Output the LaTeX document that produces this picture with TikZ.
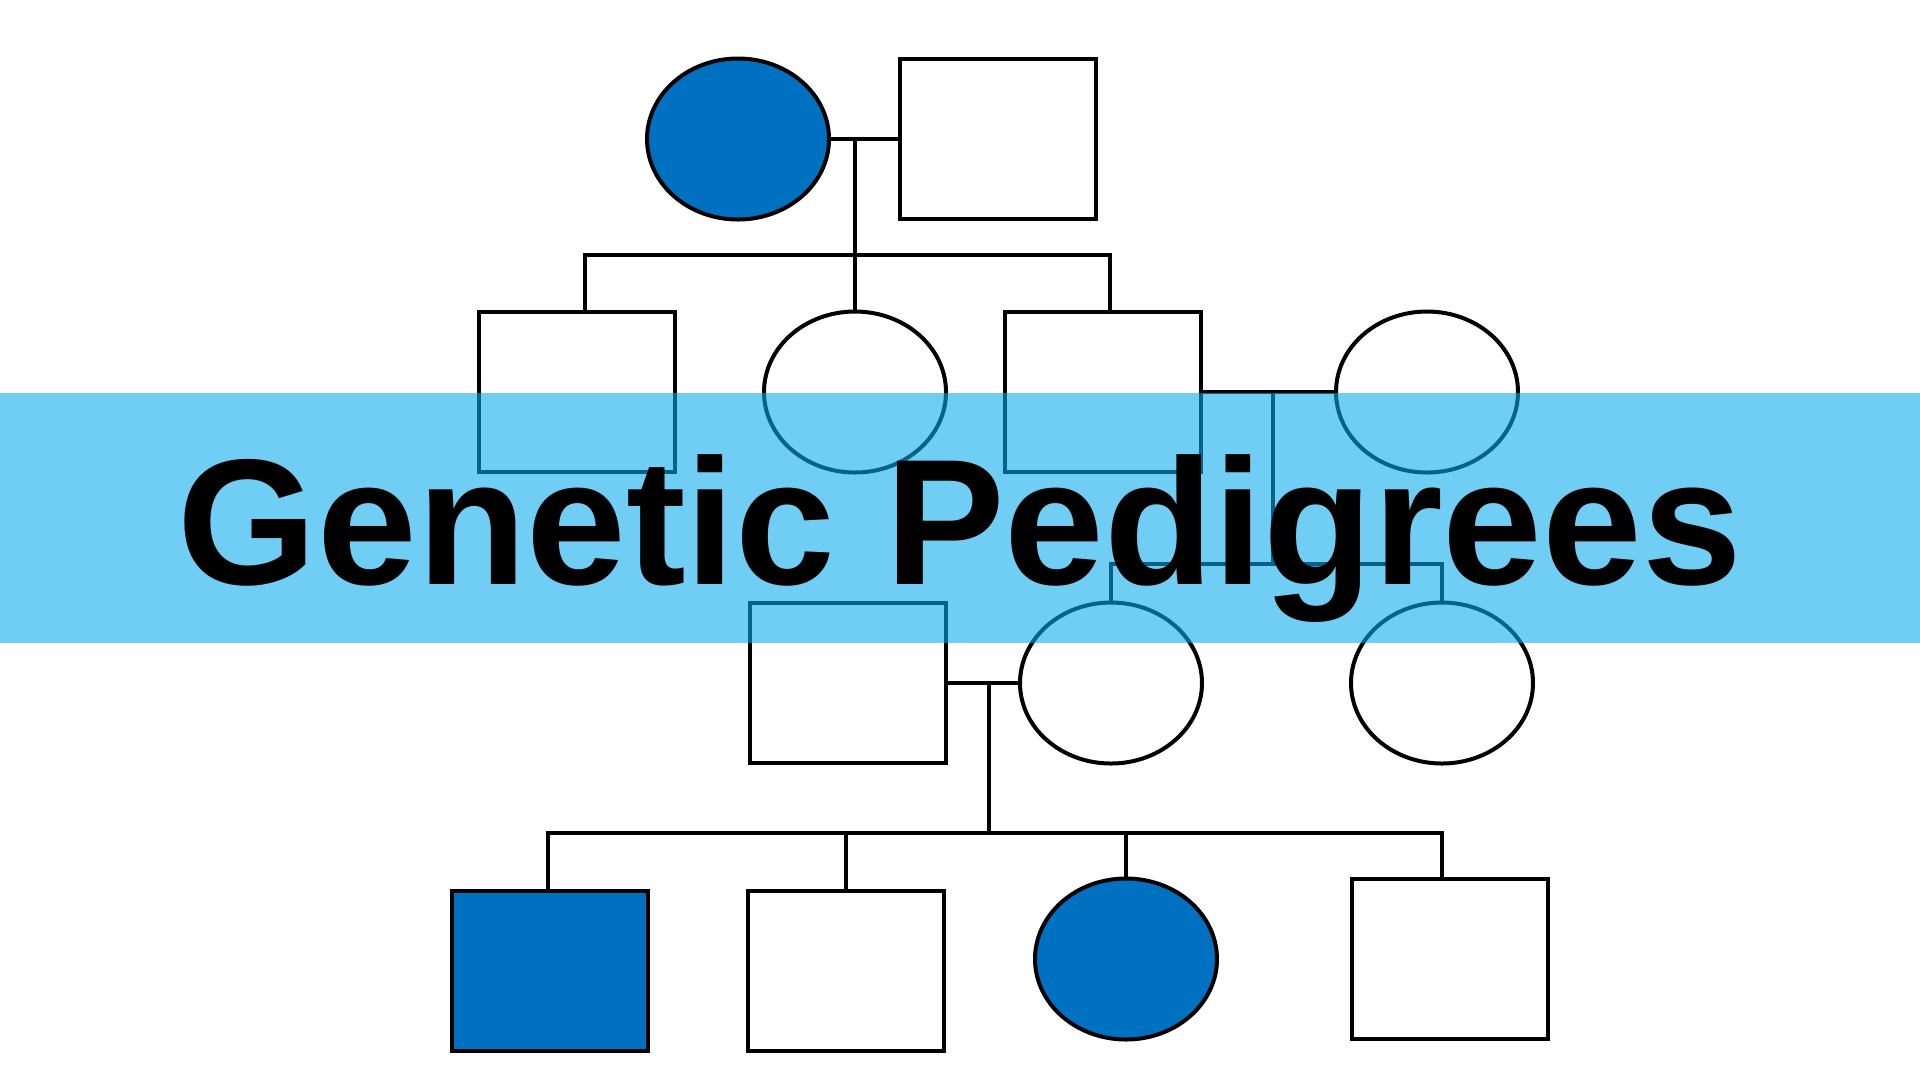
\documentclass[tikz,border=0pt]{standalone}
\usepackage{fontspec}
\setsansfont{Liberation Sans}
\usetikzlibrary{shapes.geometric}
\definecolor{affected}{HTML}{0070C0}
\definecolor{banner}{RGB}{10,170,235}

\begin{document}
\begin{tikzpicture}[x=0.1mm,y=-0.1mm,
	male/.style={draw=black,line width=0.4mm,fill=white,minimum width=19.6mm,minimum height=16mm,inner sep=0pt},
	female/.style={ellipse,draw=black,line width=0.4mm,fill=white,minimum width=18.2mm,minimum height=16.1mm,inner sep=0pt},
	ill/.style={fill=affected},
	link/.style={line width=0.45mm}]
	\useasboundingbox (0,0) rectangle (1920,1080);
	\fill[white] (0,0) rectangle (1920,1080);

	% First generation
	\node[female,ill] (grandma) at (738,139) {};
	\node[male] (grandpa) at (998,139) {};
	\coordinate (m1) at (855,139);
	\coordinate (s1l) at (585,255);
	\coordinate (s1r) at (1110,255);

	% Second generation
	\node[male] (son1) at (577,392) {};
	\node[female] (daughter1) at (855,392) {};
	\node[male] (son2) at (1103,392) {};
	\node[female] (wife2) at (1427,392) {};
	\coordinate (m2) at (1273,391);
	\coordinate (s2) at (1273,564);

	% Third generation
	\node[male] (husband3) at (848,683) {};
	\node[female] (daughter3) at (1111,683) {};
	\node[female] (daughter4) at (1442,683) {};
	\coordinate (m3) at (989,683);
	\coordinate (s3l) at (548,833);
	\coordinate (s3r) at (1442,833);

	% Fourth generation
	\node[male,ill] (son5) at (550,971) {};
	\node[male] (son6) at (846,971) {};
	\node[female,ill] (daughter5) at (1126,959) {};
	\node[male] (son7) at (1450,959) {};

	% The lines
	\draw[link] (grandma) -- (grandpa);
	\draw[link] (m1) -- (daughter1.north);
	\draw[link] (son1.north -| s1l) -- (s1l) -- (s1r) -- (son2.north -| s1r);
	\draw[link] (son2) -- (wife2);
	\draw[link] (m2) -- (s2);
	\draw[link] (daughter3.north) |- (s2) -| (daughter4.north);
	\draw[link] (husband3) -- (daughter3);
	\draw[link] (m3) -- (m3 |- s3l);
	\draw[link] (son5.north -| s3l) -- (s3l) -- (s3r) -- (son7.north -| s3r);
	\draw[link] (son6.north) -- (son6.north |- s3l);
	\draw[link] (daughter5.north) -- (daughter5.north |- s3l);

	% The banner
	\fill[banner,opacity=0.58] (0,393) rectangle (1920,643);
	\node[anchor=base,inner sep=0pt,font=\sffamily\bfseries\fontsize{51}{60}\selectfont] (title) at (960,584) {Genetic Pedigrees};
\end{tikzpicture}
\end{document}
